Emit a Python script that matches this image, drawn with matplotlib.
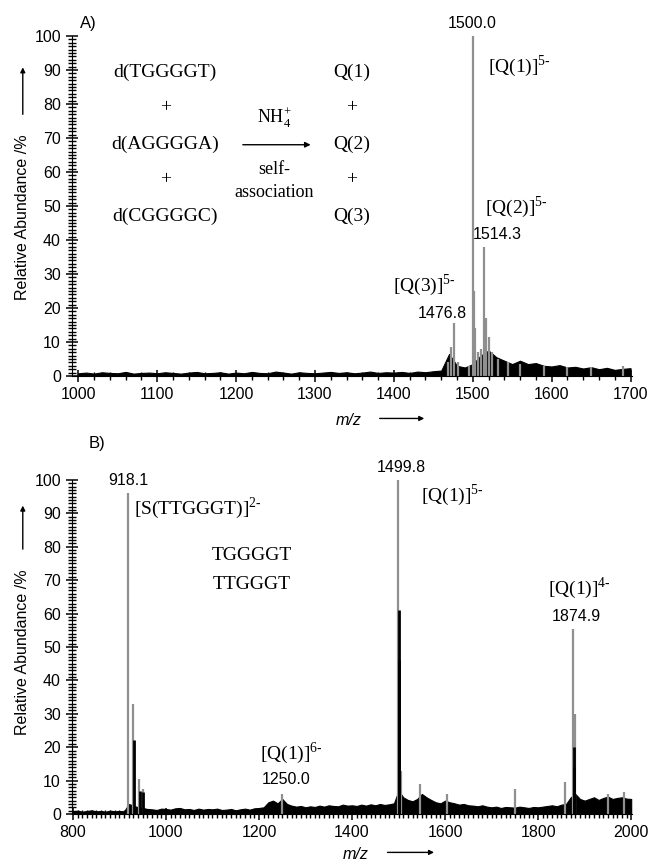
# ESI mass spectra of G-quadruplex mixtures (panels A and B)

import numpy as np
import matplotlib.pyplot as plt

plt.rcParams['font.family'] = ['Liberation Sans', 'DejaVu Sans']
plt.rcParams['mathtext.fontset'] = 'custom'
plt.rcParams['mathtext.rm'] = 'Liberation Serif'

# ---- panel A data ----
# baseline profile, sampled every 10 m/z units from 1000 to 1700
top_base_mz = np.arange(1000, 1701, 10)
top_base_val = [0.8, 1.0, 0.7, 1.1, 0.9, 0.8, 1.2, 0.7, 0.9, 1.0,
                0.8, 1.1, 0.9, 0.7, 1.0, 1.2, 0.8, 0.9, 1.1, 0.7,
                1.0, 0.8, 1.2, 0.9, 0.8, 1.3, 1.0, 0.7, 1.1, 0.9,
                0.8, 1.0, 1.2, 0.9, 1.1, 0.8, 1.0, 1.3, 0.9, 1.1,
                1.0, 1.2, 0.9, 1.3, 1.1, 1.4, 1.6,
                6.5, 3.0, 2.5, 3.5, 6.0, 7.5, 5.5, 4.5, 3.5, 4.5,
                3.5, 3.8, 3.0, 2.8, 3.2, 2.5, 2.7, 2.2, 2.6, 2.0,
                2.4, 1.8, 2.1, 2.3]

# centroid sticks (grey)
top_peak_mz = [1468, 1472, 1476.8, 1481, 1495, 1500.0, 1501.5, 1503, 1507, 1510,
               1514.3, 1517, 1520, 1525, 1532, 1545, 1560, 1590, 1620, 1650, 1690]
top_peak_val = [4, 8.5, 15.5, 4, 3, 100, 25, 14, 7, 8,
                38, 17, 11.5, 7, 5, 4, 3.5, 3, 2.5, 2.5, 3]

# ---- panel B data ----
bot_base_mz = np.arange(800, 2001, 10)
bot_base_val = [0.8, 1.0, 0.7, 0.9, 1.1, 0.8, 0.9, 0.7, 1.0, 0.8, 0.9, 0.8,
                3.0, 2.5, 2.0, 1.8, 1.5, 1.4, 1.2, 1.6,
                1.5, 1.3, 1.7, 1.8, 1.4, 1.5, 1.2, 1.6, 1.3, 1.5,
                1.4, 1.6, 1.2, 1.3, 1.5, 1.1, 1.4, 1.6, 1.3, 1.7,
                1.8, 2.0, 3.5, 4.0, 3.2, 4.5, 3.0, 2.5, 2.2, 2.4,
                2.0, 2.3, 2.1, 2.5, 2.2, 2.6, 2.4, 2.3, 2.8, 2.5,
                2.6, 2.4, 2.8, 2.5, 2.9, 2.6, 3.0, 2.7, 2.9, 3.2,
                7.0, 5.0, 4.2, 3.8, 4.5, 6.0, 5.0, 4.2, 3.5, 3.2,
                4.0, 3.5, 3.2, 2.8, 3.0, 2.6, 2.5, 2.3, 2.6, 2.2,
                2.0, 2.2, 1.8, 2.1, 2.0, 1.9, 2.2, 2.0, 1.8, 2.1,
                2.0, 2.2, 2.4, 2.6, 2.3, 2.8, 3.0, 5.0, 6.0, 4.5,
                4.0, 4.5, 5.0, 4.2, 4.8, 5.2, 4.5, 4.8, 5.0, 4.6,
                4.5]

bot_peak_mz = [918.1, 930, 943, 950, 1250.0, 1499.8, 1505, 1545, 1605,
               1750, 1858, 1874.9, 1880, 1950, 1985]
bot_peak_val = [96, 33, 10.5, 7.5, 6, 100, 13, 9, 6,
                7.5, 9.5, 55.5, 30, 6, 6.5]

# profile maxima (black)
bot_dark_mz = [930.5, 944, 951, 1500.3, 1501.2, 1876, 1878]
bot_dark_val = [22, 7, 6.5, 61, 46, 20, 14]

grey = '#8f8f8f'
serif = 'Liberation Serif'

fig = plt.figure(figsize=(6.51, 8.61), dpi=100)
ax1 = fig.add_axes([0.1106, 0.5633, 0.8604, 0.395])
ax2 = fig.add_axes([0.1106, 0.0546, 0.8604, 0.388])


def style_axis(ax, xmin, xmax, xstart, xend, major, minor):
    ax.set_xticks(np.arange(xstart, xend + 1, major))
    ax.set_xticks(np.arange(xstart, xend + 1, minor), minor=True)
    ax.set_yticks(np.arange(0, 101, 10))
    ax.set_yticks(np.arange(0, 101, 1), minor=True)
    ax.set_xlim(xmin, xmax)
    ax.set_ylim(0, 100)
    ax.tick_params(axis='both', which='minor', direction='inout', length=6, width=1.0,
                   color='black')
    ax.tick_params(axis='both', which='major', direction='inout', length=8, width=1.1,
                   labelsize=11.5, color='black', pad=4)
    ax.spines['top'].set_visible(False)
    ax.spines['right'].set_visible(False)


def sup(base, charge):
    return base + '$^{\\text{' + charge + '}}$'


# ---- panel A ----
style_axis(ax1, 992, 1702, 1000, 1700, 100, 20)
ax1.fill_between(top_base_mz, 0, top_base_val, color='black', lw=0.8)
ax1.vlines(top_peak_mz, 0, top_peak_val, color=grey, lw=1.6)

ax1.text(1499, 101.5, '1500.0', ha='center', va='bottom', fontsize=11.5)
ax1.text(1559, 91, sup('[Q(1)]', '5-'), ha='center', va='center', fontsize=14, family=serif)
ax1.text(1555, 49.7, sup('[Q(2)]', '5-'), ha='center', va='center', fontsize=14, family=serif)
ax1.text(1531, 41.5, '1514.3', ha='center', va='center', fontsize=11.5)
ax1.text(1439, 26.8, sup('[Q(3)]', '5-'), ha='center', va='center', fontsize=14, family=serif)
ax1.text(1461, 18.5, '1476.8', ha='center', va='center', fontsize=11.5)

left_lines = ['d(TGGGGT)', '+', 'd(AGGGGA)', '+', 'd(CGGGGC)']
right_lines = ['Q(1)', '+', 'Q(2)', '+', 'Q(3)']
rows_y = [89.4, 79, 68, 57.6, 46.8]
for txt, y in zip(left_lines, rows_y):
    ax1.text(1110, y, txt, ha='center', va='center', fontsize=14, family=serif)
for txt, y in zip(right_lines, rows_y):
    ax1.text(1346, y, txt, ha='center', va='center', fontsize=14, family=serif)
ax1.annotate('', xy=(1298, 68), xytext=(1205, 68),
             arrowprops=dict(arrowstyle='-|>', color='black', lw=1.0, mutation_scale=8))
ax1.text(1249, 76, 'NH$_{\\text{4}}^{\\text{+}}$', ha='center', va='center',
         fontsize=13, family=serif)
ax1.text(1248, 60.6, 'self-', ha='center', va='center', fontsize=13, family=serif)
ax1.text(1248, 54, 'association', ha='center', va='center', fontsize=13, family=serif)

# ---- panel B ----
style_axis(ax2, 798, 2002, 800, 2000, 200, 10)
ax2.fill_between(bot_base_mz, 0, bot_base_val, color='black', lw=0.8)
ax2.vlines(bot_peak_mz, 0, bot_peak_val, color=grey, lw=1.6)
ax2.vlines(bot_dark_mz, 0, bot_dark_val, color='black', lw=2.0)

ax2.text(918, 97.5, '918.1', ha='center', va='bottom', fontsize=11.5)
ax2.text(1068, 91.6, sup('[S(TTGGGT)]', '2-'), ha='center', va='center', fontsize=14, family=serif)
ax2.text(1184, 77.5, 'TGGGGT', ha='center', va='center', fontsize=14, family=serif)
ax2.text(1184, 68.6, 'TTGGGT', ha='center', va='center', fontsize=14, family=serif)
ax2.text(1270, 18.3, sup('[Q(1)]', '6-'), ha='center', va='center', fontsize=14, family=serif)
ax2.text(1259, 10.2, '1250.0', ha='center', va='center', fontsize=11.5)
ax2.text(1506, 101.5, '1499.8', ha='center', va='bottom', fontsize=11.5)
ax2.text(1615, 95.5, sup('[Q(1)]', '5-'), ha='center', va='center', fontsize=14, family=serif)
ax2.text(1888, 67.7, sup('[Q(1)]', '4-'), ha='center', va='center', fontsize=14, family=serif)
ax2.text(1882, 59, '1874.9', ha='center', va='center', fontsize=11.5)

# ---- panel letters, axis titles and arrows (figure coordinates) ----
fig.text(0.135, 0.973, 'A)', ha='center', va='center', fontsize=12)
fig.text(0.149, 0.485, 'B)', ha='center', va='center', fontsize=12)

for yc, ya0, ya1 in [(0.748, 0.864, 0.925), (0.243, 0.359, 0.416)]:
    fig.text(0.034, yc, 'Relative Abundance /%', rotation=90, ha='center', va='center',
             fontsize=11.5)
    ax1.annotate('', xy=(0.035, ya1), xytext=(0.035, ya0),
                 xycoords='figure fraction', textcoords='figure fraction',
                 arrowprops=dict(arrowstyle='-|>', color='black', lw=1.0, mutation_scale=7))

for xc, yc, xa0, xa1 in [(0.535, 0.512, 0.579, 0.656), (0.546, 0.008, 0.591, 0.671)]:
    fig.text(xc, yc, 'm/z', ha='center', va='center', fontsize=11.5, style='italic')
    ax1.annotate('', xy=(xa1, yc + 0.002), xytext=(xa0, yc + 0.002),
                 xycoords='figure fraction', textcoords='figure fraction',
                 arrowprops=dict(arrowstyle='-|>', color='black', lw=1.0, mutation_scale=7))

fig.savefig('out.png', dpi=100)
